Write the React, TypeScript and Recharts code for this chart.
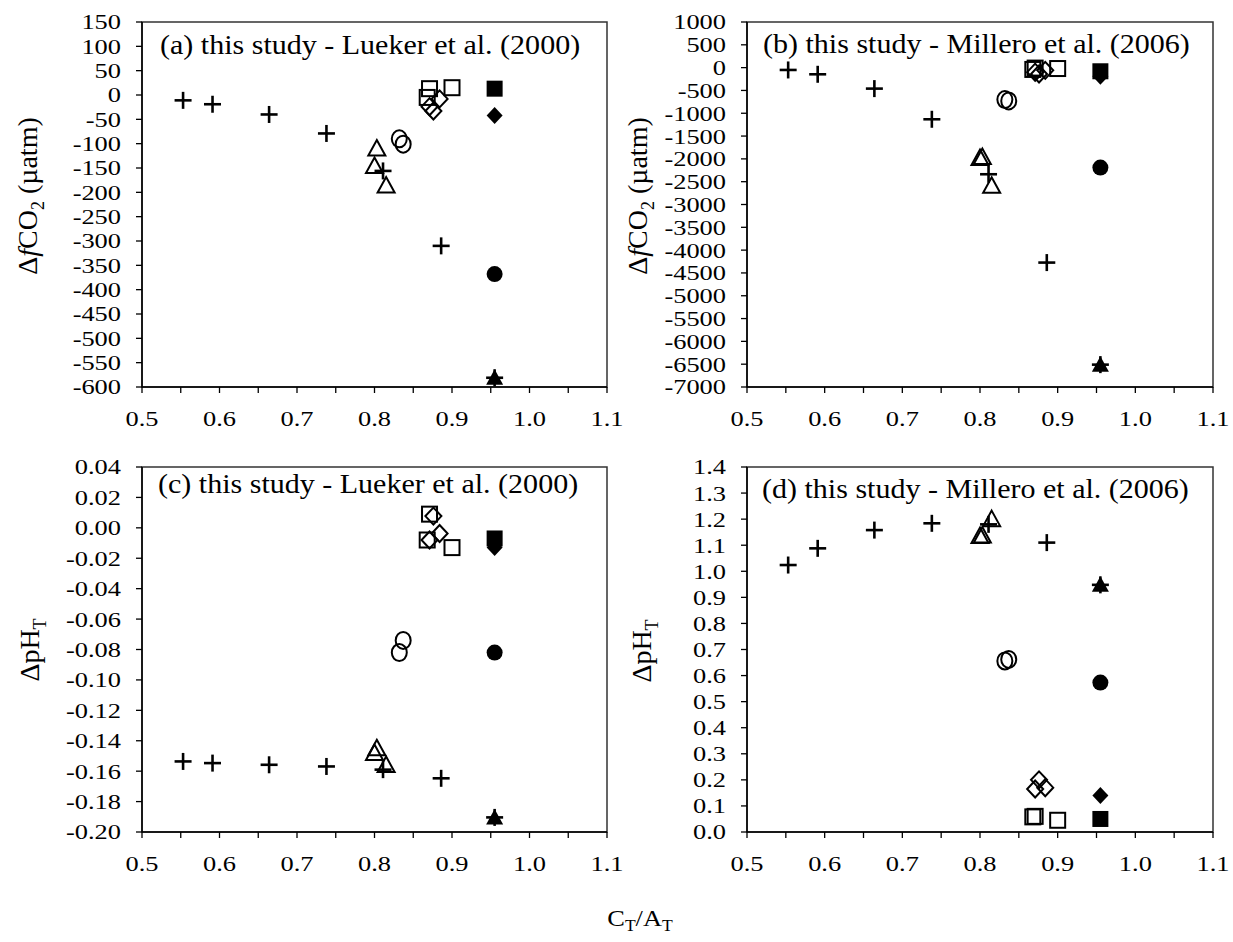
import React from 'react';
import { ScatterChart, Scatter, XAxis, YAxis, ReferenceArea } from 'recharts';

// C_T/A_T of each sample group (shared by all four panels)
const crossX = [0.553, 0.591, 0.664, 0.738, 0.811, 0.886, 0.955];
const triangleX = [0.803, 0.8, 0.815];
const circleX = [0.832, 0.837];
const diamondX = [0.871, 0.876, 0.884];
const squareX = [0.871, 0.868, 0.9];
const filledX = [0.955];

// (a) ΔfCO2, this study - Lueker
const aCross = [-11, -19, -40, -79, -156, -310, -581];
const aTriangle = [-110, -146, -186];
const aCircle = [-90, -101];
const aDiamond = [-24, -33, -8];
const aSquare = [13, -5, 15];
const aFilledSquare = [13];
const aFilledDiamond = [-42];
const aFilledCircle = [-368];
const aFilledTriangle = [-581];

// (b) ΔfCO2, this study - Millero
const bCross = [-51, -146, -460, -1132, -2337, -4273, -6510];
const bTriangle = [-1960, -1980, -2590];
const bCircle = [-700, -730];
const bDiamond = [-100, -140, -60];
const bSquare = [-10, -40, -20];
const bFilledSquare = [-80];
const bFilledDiamond = [-190];
const bFilledCircle = [-2190];
const bFilledTriangle = [-6510];

// (c) ΔpH_T, this study - Lueker
const cCross = [-0.1536, -0.1547, -0.1558, -0.1569, -0.159, -0.1647, -0.1904];
const cTriangle = [-0.145, -0.148, -0.156];
const cCircle = [-0.082, -0.074];
const cDiamond = [-0.008, 0.0077, -0.0037];
const cSquare = [0.009, -0.008, -0.013];
const cFilledSquare = [-0.007];
const cFilledDiamond = [-0.013];
const cFilledCircle = [-0.082];
const cFilledTriangle = [-0.1904];

// (d) ΔpH_T, this study - Millero
const dCross = [1.024, 1.088, 1.158, 1.184, 1.18, 1.11, 0.948];
const dTriangle = [1.137, 1.135, 1.2];
const dCircle = [0.656, 0.662];
const dDiamond = [0.165, 0.2, 0.17];
const dSquare = [0.06, 0.058, 0.045];
const dFilledSquare = [0.05];
const dFilledDiamond = [0.14];
const dFilledCircle = [0.573];
const dFilledTriangle = [0.948];

const xTicks = [0.5, 0.55, 0.6, 0.65, 0.7, 0.75, 0.8, 0.85, 0.9, 0.95, 1.0, 1.05, 1.1];
const aTicks = [-600, -550, -500, -450, -400, -350, -300, -250, -200, -150, -100, -50, 0, 50, 100, 150];
const bTicks = [-7000, -6500, -6000, -5500, -5000, -4500, -4000, -3500, -3000, -2500, -2000, -1500, -1000, -500, 0, 500, 1000];
const cTicks = [-0.2, -0.18, -0.16, -0.14, -0.12, -0.1, -0.08, -0.06, -0.04, -0.02, 0, 0.02, 0.04];
const dTicks = [0, 0.1, 0.2, 0.3, 0.4, 0.5, 0.6, 0.7, 0.8, 0.9, 1.0, 1.1, 1.2, 1.3, 1.4];

const titles = [
  '(a) this study - Lueker et al. (2000)',
  '(b) this study - Millero et al. (2006)',
  '(c) this study - Lueker et al. (2000)',
  '(d) this study - Millero et al. (2006)',
];

const FONT = "'Liberation Serif', 'Times New Roman', serif";
const INK = '#000';
const SX = 1.1; // the original figure is a little wider than its font
const TX = 1.2; // tick labels are drawn a bit wider still

type Pt = { x: number; y: number };
const zip = (xs: number[], ys: number[]): Pt[] => xs.map((x, i) => ({ x, y: ys[i] }));

// marker shapes
const Cross = (p: any) => {
  const { cx, cy } = p;
  if (cx == null || cy == null) return <g />;
  return (
    <g stroke={INK} strokeWidth={2.6}>
      <line x1={cx - 8.5} y1={cy} x2={cx + 8.5} y2={cy} />
      <line x1={cx} y1={cy - 8.5} x2={cx} y2={cy + 8.5} />
    </g>
  );
};
const tri = (cx: number, cy: number) => `${cx},${cy - 8.5} ${cx + 8.5},${cy + 7} ${cx - 8.5},${cy + 7}`;
const dia = (cx: number, cy: number) => `${cx},${cy - 8.5} ${cx + 8},${cy} ${cx},${cy + 8.5} ${cx - 8},${cy}`;

const OpenTriangle = (p: any) => <polygon points={tri(p.cx, p.cy)} fill="none" stroke={INK} strokeWidth={2} />;
const OpenCircle = (p: any) => <ellipse cx={p.cx} cy={p.cy} rx={7.5} ry={8.5} fill="none" stroke={INK} strokeWidth={2} />;
const OpenDiamond = (p: any) => <polygon points={dia(p.cx, p.cy)} fill="none" stroke={INK} strokeWidth={2} />;
const OpenSquare = (p: any) => <rect x={p.cx - 7.5} y={p.cy - 7.5} width={15} height={15} fill="none" stroke={INK} strokeWidth={2} />;
const FilledSquare = (p: any) => <rect x={p.cx - 8} y={p.cy - 8} width={16} height={16} fill={INK} />;
const FilledDiamond = (p: any) => <polygon points={dia(p.cx, p.cy)} fill={INK} />;
const FilledCircle = (p: any) => <circle cx={p.cx} cy={p.cy} r={8} fill={INK} />;
const FilledTriangle = (p: any) => <polygon points={tri(p.cx, p.cy)} fill={INK} />;

const isMajor = (v: number) => Math.abs(v * 10 - Math.round(v * 10)) < 1e-6;

const XTick = (props: any) => {
  const { x, y, payload } = props;
  if (!isMajor(payload.value)) return <g />;
  return (
    <g transform={`translate(${x},${y}) scale(${TX},1)`}>
      <text x={0} y={0} dy="0.71em" textAnchor="middle" fontFamily={FONT} fontSize={22} fill={INK}>
        {payload.value.toFixed(1)}
      </text>
    </g>
  );
};

const makeYTick = (decimals: number) => (props: any) => {
  const { x, y, payload } = props;
  return (
    <g transform={`translate(${x},${y}) scale(${TX},1)`}>
      <text x={0} y={0} dy="0.34em" textAnchor="end" fontFamily={FONT} fontSize={22} fill={INK}>
        {Number(payload.value).toFixed(decimals)}
      </text>
    </g>
  );
};

type Panel = {
  L: number; R: number; T: number; B: number;
  ticks: number[]; decimals: number;
  series: { name: string; data: Pt[]; shape: any }[];
};

const build = (cr: number[], tr: number[], ci: number[], di: number[], sq: number[], fs: number[], fd: number[], fc: number[], ft: number[]) => [
  { name: 'cross', data: zip(crossX, cr), shape: Cross },
  { name: 'triangle', data: zip(triangleX, tr), shape: OpenTriangle },
  { name: 'circle', data: zip(circleX, ci), shape: OpenCircle },
  { name: 'diamond', data: zip(diamondX, di), shape: OpenDiamond },
  { name: 'square', data: zip(squareX, sq), shape: OpenSquare },
  { name: 'filledSquare', data: zip(filledX, fs), shape: FilledSquare },
  { name: 'filledDiamond', data: zip(filledX, fd), shape: FilledDiamond },
  { name: 'filledCircle', data: zip(filledX, fc), shape: FilledCircle },
  { name: 'filledTriangle', data: zip(filledX, ft), shape: FilledTriangle },
];

const panels: Panel[] = [
  { L: 142, R: 607, T: 22, B: 387, ticks: aTicks, decimals: 0,
    series: build(aCross, aTriangle, aCircle, aDiamond, aSquare, aFilledSquare, aFilledDiamond, aFilledCircle, aFilledTriangle) },
  { L: 747, R: 1213, T: 22, B: 387, ticks: bTicks, decimals: 0,
    series: build(bCross, bTriangle, bCircle, bDiamond, bSquare, bFilledSquare, bFilledDiamond, bFilledCircle, bFilledTriangle) },
  { L: 142, R: 607, T: 467, B: 832, ticks: cTicks, decimals: 2,
    series: build(cCross, cTriangle, cCircle, cDiamond, cSquare, cFilledSquare, cFilledDiamond, cFilledCircle, cFilledTriangle) },
  { L: 747, R: 1213, T: 467, B: 832, ticks: dTicks, decimals: 1,
    series: build(dCross, dTriangle, dCircle, dDiamond, dSquare, dFilledSquare, dFilledDiamond, dFilledCircle, dFilledTriangle) },
];

const YW = 100;
const XH = 60;
const MT = 20;
const MR = 20;

function PanelChart({ p }: { p: Panel }) {
  const w = p.R - p.L + YW + MR;
  const h = p.B - p.T + MT + XH;
  const yMin = p.ticks[0];
  const yMax = p.ticks[p.ticks.length - 1];
  return (
    <div style={{ position: 'absolute', left: p.L - YW, top: p.T - MT }}>
      <ScatterChart width={w} height={h} margin={{ top: MT, right: MR, bottom: 0, left: 0 }}>
        <XAxis
          type="number"
          dataKey="x"
          domain={[0.5, 1.1]}
          ticks={xTicks}
          interval={0}
          height={XH}
          tickSize={6}
          tickMargin={17}
          tick={XTick}
          axisLine={{ stroke: INK, strokeWidth: 1.5 }}
          tickLine={{ stroke: INK, strokeWidth: 1.3 }}
        />
        <YAxis
          type="number"
          dataKey="y"
          domain={[yMin, yMax]}
          ticks={p.ticks}
          interval={0}
          width={YW}
          tickSize={6}
          tickMargin={15}
          tick={makeYTick(p.decimals)}
          axisLine={{ stroke: INK, strokeWidth: 1.5 }}
          tickLine={{ stroke: INK, strokeWidth: 1.3 }}
        />
        <ReferenceArea x1={0.5} x2={1.1} y1={yMin} y2={yMax} fill="none" stroke="#333" strokeWidth={1.5} ifOverflow="visible" />
        {p.series.map((s) => (
          <Scatter key={s.name} name={s.name} data={s.data} shape={s.shape} isAnimationActive={false} />
        ))}
      </ScatterChart>
    </div>
  );
}

const titlePos = [
  { x: 160, y: 45 },
  { x: 763, y: 44 },
  { x: 158, y: 484 },
  { x: 762, y: 489 },
];

export default function App() {
  return (
    <div style={{ position: 'absolute', left: 0, top: 0, width: 1233, height: 942, background: '#fff', overflow: 'hidden' }}>
      {panels.map((p, i) => (
        <PanelChart key={i} p={p} />
      ))}
      <svg width={1233} height={942} style={{ position: 'absolute', left: 0, top: 0, pointerEvents: 'none' }}>
        <g fontFamily={FONT} fill={INK}>
          {titles.map((t, i) => (
            <g key={t + i} transform={`translate(${titlePos[i].x},${titlePos[i].y + 9}) scale(${SX},1)`}>
              <text x={0} y={0} fontSize={27.3}>{t}</text>
            </g>
          ))}
          {[{ x: 28, y: 196 }, { x: 638, y: 196 }].map((c, i) => (
            <g key={'fco2' + i} transform={`translate(${c.x},${c.y}) rotate(-90)`}>
              <text x={0} y={0} dy="0.33em" textAnchor="middle" fontSize={28}>
                Δ<tspan fontStyle="italic">f</tspan>CO<tspan dy={7} fontSize={18}>2</tspan>
                <tspan dy={-7}> (µatm)</tspan>
              </text>
            </g>
          ))}
          {[{ x: 30, y: 650 }, { x: 642, y: 651 }].map((c, i) => (
            <g key={'ph' + i} transform={`translate(${c.x},${c.y}) rotate(-90)`}>
              <text x={0} y={0} dy="0.33em" textAnchor="middle" fontSize={28}>
                ΔpH<tspan dy={7} fontSize={18}>T</tspan>
              </text>
            </g>
          ))}
          <g transform={`translate(640,926) scale(${SX},1)`}>
            <text x={0} y={0} textAnchor="middle" fontSize={24}>
              C<tspan dy={5} fontSize={16}>T</tspan>
              <tspan dy={-5}>/A</tspan>
              <tspan dy={5} fontSize={16}>T</tspan>
            </text>
          </g>
        </g>
      </svg>
    </div>
  );
}
